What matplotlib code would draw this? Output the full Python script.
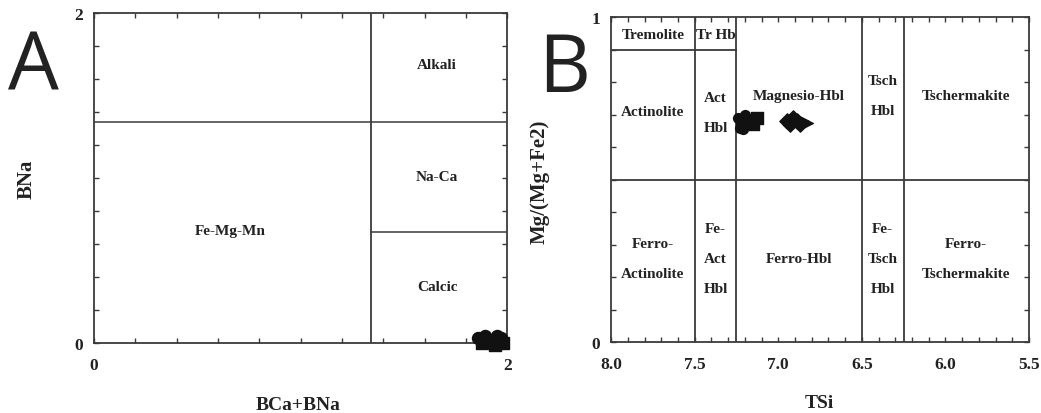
import numpy as np
import matplotlib
matplotlib.use("Agg")
import matplotlib.pyplot as plt

# amphibole analyses: group classification (A) and calcic subdivision (B)
a_bcabna_circ = [1.86, 1.89, 1.92, 1.95, 1.97]
a_bna_circ = [0.03, 0.04, 0.02, 0.04, 0.03]
a_bcabna_sq = [1.88, 1.91, 1.94, 1.96, 1.98]
a_bna_sq = [0.00, 0.01, -0.01, 0.01, 0.00]

b_tsi_circ = [7.24, 7.22, 7.20, 7.23, 7.19, 7.21]
b_mg_circ = [0.69, 0.67, 0.70, 0.66, 0.68, 0.655]
b_tsi_sq = [7.16, 7.13, 7.15]
b_mg_sq = [0.68, 0.69, 0.67]
b_tsi_dia = [6.95, 6.93, 6.91, 6.89, 6.87]
b_mg_dia = [0.68, 0.67, 0.69, 0.68, 0.67]
b_tsi_tri = [6.85, 6.83]
b_mg_tri = [0.68, 0.675]

SERIF = ["Liberation Serif", "DejaVu Serif"]
INK = "#222222"
LINE = "#3a3a3a"

plt.rcParams["font.family"] = SERIF
plt.rcParams["font.weight"] = "bold"

fig = plt.figure(figsize=(10.41, 4.14), dpi=100)
ax_a = fig.add_axes([0.0903, 0.169, 0.397, 0.797])
ax_b = fig.add_axes([0.587, 0.1715, 0.4015, 0.785])


def _frame(ax):
    for s in ax.spines.values():
        s.set_color(LINE)
        s.set_linewidth(1.3)
    ax.tick_params(which="both", direction="in", top=True, right=True,
                   length=3.5, width=1.0, color=LINE, labelsize=12.5,
                   labelcolor=INK)
    ax.tick_params(axis="x", pad=10)
    ax.tick_params(axis="y", pad=8)


def _label(ax, x, y, s, size=11, ls=1.2):
    ax.text(x, y, s, ha="center", va="center", fontsize=size,
            fontweight="bold", color=INK, linespacing=ls)


# ---- A: BNa vs BCa+BNa
ax = ax_a
ax.set_xlim(0, 2)
ax.set_ylim(0, 2)
ticks = np.round(np.arange(0, 2.01, 0.2), 1)
ax.set_xticks(ticks)
ax.set_yticks(ticks)
ax.set_xticklabels(["0"] + [""] * 9 + ["2"])
ax.set_yticklabels(["0"] + [""] * 9 + ["2"])
_frame(ax)
ax.axvline(1.34, color=LINE, lw=1.3)
ax.plot([0, 2], [1.34, 1.34], color=LINE, lw=1.1)
ax.plot([1.34, 2], [0.67, 0.67], color=LINE, lw=1.1)
_label(ax, 1.66, 1.69, "Alkali")
_label(ax, 1.66, 1.01, "Na-Ca")
_label(ax, 1.66, 0.345, "Calcic")
_label(ax, 0.66, 0.685, "Fe-Mg-Mn")
ax.scatter(a_bcabna_circ, a_bna_circ, s=75, marker="o", color="#111111",
           clip_on=False, zorder=5)
ax.scatter(a_bcabna_sq, a_bna_sq, s=75, marker="s", color="#111111",
           clip_on=False, zorder=5)
ax.set_xlabel("BCa+BNa", fontsize=14, fontweight="bold", color=INK)
ax.set_ylabel("BNa", fontsize=15, fontweight="bold", color=INK)
ax.xaxis.set_label_coords(0.494, -0.16)
ax.yaxis.set_label_coords(-0.14, 0.5)

# ---- B: Mg/(Mg+Fe2) vs TSi
ax = ax_b
ax.set_xlim(8.0, 5.5)
ax.set_ylim(0, 1)
ax.set_xticks(np.round(np.arange(5.5, 8.01, 0.1), 1), minor=True)
ax.set_xticks([8.0, 7.5, 7.0, 6.5, 6.0, 5.5])
ax.set_xticklabels(["8.0", "7.5", "7.0", "6.5", "6.0", "5.5"])
ax.set_yticks(np.round(np.arange(0, 1.01, 0.1), 1), minor=True)
ax.set_yticks([0, 1])
ax.set_yticklabels(["0", "1"])
_frame(ax)
for x in [7.5, 7.25, 6.5, 6.25]:
    ax.axvline(x, color=LINE, lw=1.3)
ax.axhline(0.5, color=LINE, lw=1.3)
ax.plot([8.0, 7.25], [0.9, 0.9], color=LINE, lw=1.3)

_label(ax, 7.75, 0.945, "Tremolite")
_label(ax, 7.375, 0.945, "Tr Hb")
_label(ax, 7.75, 0.71, "Actinolite")
_label(ax, 7.375, 0.707, "Act\nHbl", ls=2.7)
_label(ax, 6.875, 0.757, "Magnesio-Hbl")
_label(ax, 6.375, 0.757, "Tsch\nHbl", ls=2.7)
_label(ax, 5.875, 0.757, "Tschermakite")
_label(ax, 7.75, 0.258, "Ferro-\nActinolite", ls=2.7)
_label(ax, 7.375, 0.258, "Fe-\nAct\nHbl", ls=2.7)
_label(ax, 6.875, 0.258, "Ferro-Hbl")
_label(ax, 6.375, 0.258, "Fe-\nTsch\nHbl", ls=2.7)
_label(ax, 5.875, 0.258, "Ferro-\nTschermakite", ls=2.7)

ax.scatter(b_tsi_circ, b_mg_circ, s=50, marker="o", facecolor="#111111",
           edgecolor="#111111", zorder=5)
ax.scatter(b_tsi_sq, b_mg_sq, s=70, marker="s", facecolor="#111111",
           edgecolor="#111111", zorder=5)
ax.scatter(b_tsi_dia, b_mg_dia, s=60, marker="D", facecolor="#111111",
           edgecolor="#111111", zorder=5)
ax.scatter(b_tsi_tri, b_mg_tri, s=70, marker=">", facecolor="#111111",
           edgecolor="#111111", zorder=5)
ax.set_xlabel("TSi", fontsize=14, fontweight="bold", color=INK)
ax.set_ylabel("Mg/(Mg+Fe2)", fontsize=15, fontweight="bold", color=INK)
ax.xaxis.set_label_coords(0.498, -0.16)
ax.yaxis.set_label_coords(-0.148, 0.495)

# panel letters
fig.text(0.0077, 1 - 90 / 414, "A", fontsize=58, family=["Open Sans", "DejaVu Sans"],
         fontweight="normal", color="#222222", ha="left", va="baseline")
fig.text(538 / 1041, 1 - 92 / 414, "B", fontsize=58, family=["Open Sans", "DejaVu Sans"],
         fontweight="normal", color="#222222", ha="left", va="baseline")

fig.savefig("out.png", dpi=100, facecolor="white")
